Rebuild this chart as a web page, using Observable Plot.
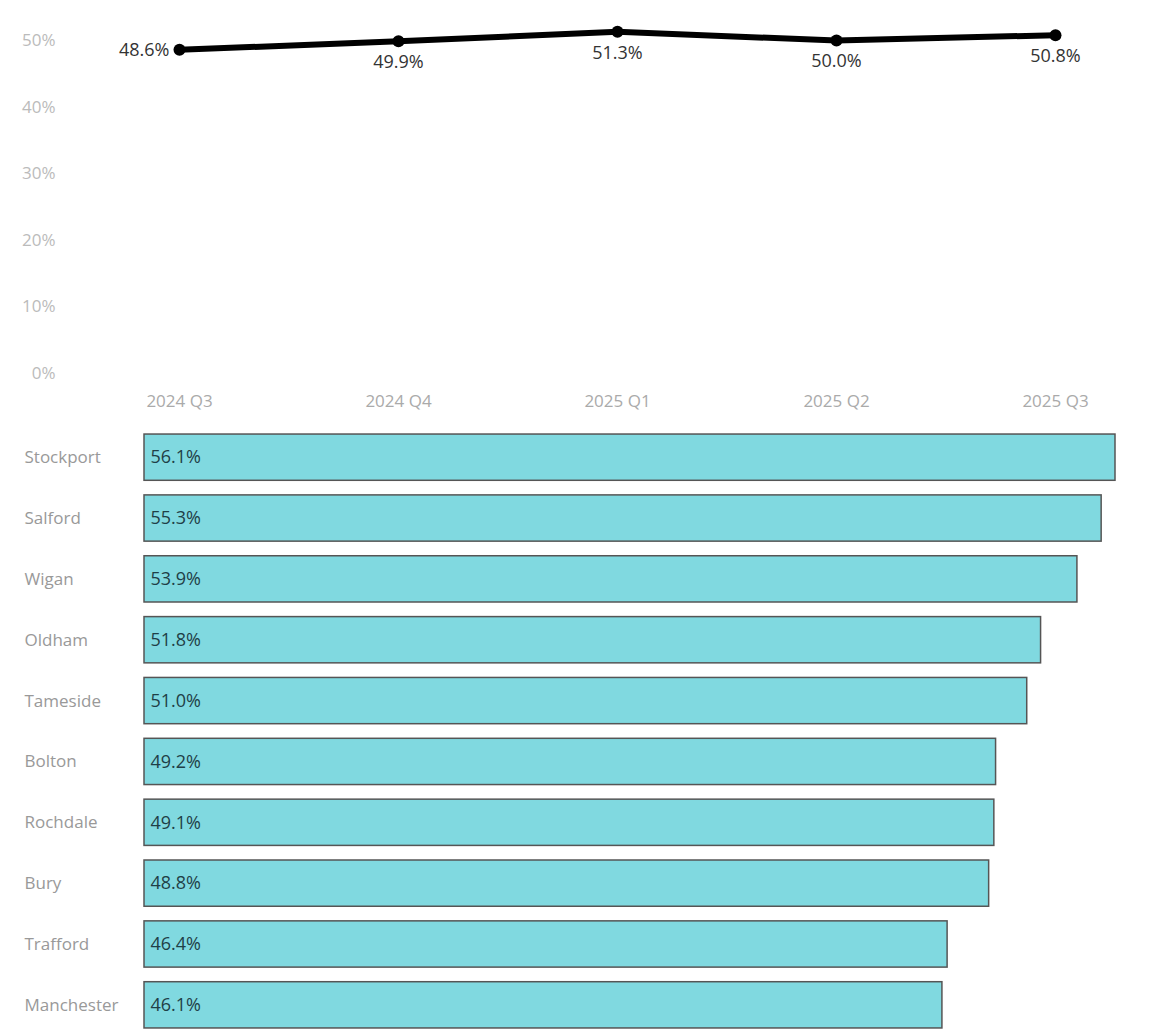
<!DOCTYPE html>
<html>
<head>
<meta charset="utf-8">
<script src="https://cdn.jsdelivr.net/npm/d3@7"></script>
<script src="https://cdn.jsdelivr.net/npm/@observablehq/plot@0.6"></script>
<style>
  html, body { margin: 0; padding: 0; background: #fff; }
  #chart svg { display: block; }
</style>
</head>
<body>
<div id="chart"></div>
<script>
// Trend data
const quarters = ["2024 Q3", "2024 Q4", "2025 Q1", "2025 Q2", "2025 Q3"];
const trendValues = [48.6, 49.9, 51.3, 50.0, 50.8];
const yTicks = [0, 10, 20, 30, 40, 50];

// Area data (latest quarter)
const areas = ["Stockport", "Salford", "Wigan", "Oldham", "Tameside", "Bolton", "Rochdale", "Bury", "Trafford", "Manchester"];
const areaValues = [56.1, 55.3, 53.9, 51.8, 51.0, 49.2, 49.1, 48.8, 46.4, 46.1];

const trend = quarters.map((q, i) => ({quarter: q, value: trendValues[i]}));
const bars = areas.map((a, i) => ({area: a, value: areaValues[i]}));

const font = "'Open Sans', sans-serif";

const linePlot = Plot.plot({
  width: 1153,
  height: 420,
  marginTop: 40,
  marginBottom: 47,
  marginLeft: 177,
  marginRight: 97,
  style: {fontFamily: font, fontSize: "15px", background: "#fff"},
  x: {type: "point", domain: quarters, padding: 0, label: null},
  y: {domain: [0, 50], label: null},
  marks: [
    Plot.axisX({tickSize: 0, tickPadding: 21, fill: "#aaa", fontSize: 17, letterSpacing: "1px", label: null}),
    Plot.axisY({ticks: yTicks, tickSize: 0, tickPadding: 122, tickFormat: d => d + "%", fill: "#bbb", fontSize: 17, letterSpacing: "1.5px", label: null}),
    Plot.line(trend, {x: "quarter", y: "value", stroke: "#000", strokeWidth: 6, curve: "linear"}),
    Plot.dot(trend, {x: "quarter", y: "value", r: 6, fill: "#000"}),
    Plot.text(trend.filter((d, i) => i === 0), {x: "quarter", y: "value", text: d => d.value.toFixed(1) + "%", textAnchor: "end", dx: -10, fill: "#333", fontSize: 18, letterSpacing: "1px"}),
    Plot.text(trend.filter((d, i) => i > 0), {x: "quarter", y: "value", text: d => d.value.toFixed(1) + "%", dy: 21, fill: "#333", fontSize: 18, letterSpacing: "1px"})
  ]
});

const barPlot = Plot.plot({
  width: 1153,
  height: 611,
  marginTop: 11,
  marginBottom: 0,
  marginLeft: 144,
  marginRight: 38,
  style: {fontFamily: font, fontSize: "15px", background: "#fff"},
  x: {domain: [0, d3.max(areaValues)], axis: null},
  y: {domain: areas, paddingInner: 0.24, paddingOuter: 0.05, round: false, axis: null},
  marks: [
    Plot.barX(bars, {x: "value", y: "area", fill: "#80d9e0", stroke: "#555", strokeWidth: 1.5}),
    Plot.text(bars, {y: "area", text: "area", frameAnchor: "left", textAnchor: "start", dx: -120, fill: "#999", fontSize: 17, letterSpacing: "1px"}),
    Plot.text(bars, {x: 0, y: "area", text: d => d.value.toFixed(1) + "%", textAnchor: "start", dx: 6, fill: "#1f3f47", fontSize: 18, letterSpacing: "0.8px"})
  ]
});

const el = document.getElementById("chart");
el.appendChild(linePlot);
el.appendChild(barPlot);
</script>
</body>
</html>
